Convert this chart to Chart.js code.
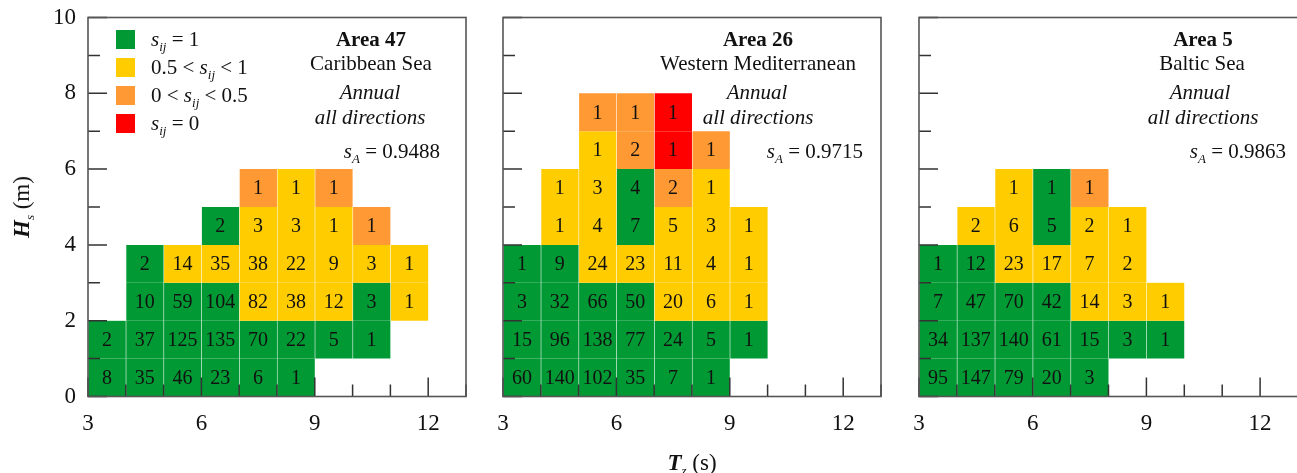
<!DOCTYPE html>
<html>
<head>
<meta charset="utf-8">
<script src="https://cdn.jsdelivr.net/npm/chart.js@4.4.1/dist/chart.umd.min.js"></script>
<style>
body{margin:0;width:1297px;height:473px;overflow:hidden;background:#fff;position:relative;
  font-family:"Liberation Serif","Times New Roman",serif;color:#111}
canvas{position:absolute;top:0}
.t{position:absolute;white-space:nowrap;font-size:21px;line-height:24px;transform:translate(-50%,-50%)}
.r{position:absolute;white-space:nowrap;font-size:21px;line-height:24px;transform:translate(-100%,-50%)}
.l{position:absolute;white-space:nowrap;font-size:21px;line-height:24px;transform:translate(0,-50%)}
sub{font-size:13px;vertical-align:-5px;line-height:0}
.sw{position:absolute;width:19px;height:19px}
</style>
</head>
<body>
<canvas id="c47" width="480" height="473" style="left:0"></canvas>
<canvas id="c26" width="412" height="473" style="left:483px"></canvas>
<canvas id="c5" width="399" height="473" style="left:899px"></canvas>

<div id="legend"></div>

<div class="t" style="left:371px;top:39px"><b>Area 47</b></div>
<div class="t" style="left:371px;top:63px">Caribbean Sea</div>
<div class="t" style="left:370px;top:92px"><i>Annual</i></div>
<div class="t" style="left:370px;top:117px"><i>all directions</i></div>
<div class="r" style="left:440px;top:151px"><i>s</i><sub><i>A</i></sub> = 0.9488</div>

<div class="t" style="left:758px;top:39px"><b>Area 26</b></div>
<div class="t" style="left:758px;top:63px">Western Mediterranean</div>
<div class="t" style="left:757px;top:92px"><i>Annual</i></div>
<div class="t" style="left:758px;top:117px"><i>all directions</i></div>
<div class="r" style="left:863px;top:151px"><i>s</i><sub><i>A</i></sub> = 0.9715</div>

<div class="t" style="left:1203px;top:39px"><b>Area 5</b></div>
<div class="t" style="left:1202px;top:63px">Baltic Sea</div>
<div class="t" style="left:1200px;top:92px"><i>Annual</i></div>
<div class="t" style="left:1203px;top:117px"><i>all directions</i></div>
<div class="r" style="left:1286px;top:151px"><i>s</i><sub><i>A</i></sub> = 0.9863</div>

<div class="t" style="left:22px;top:207px;font-size:23px;transform:translate(-50%,-50%) rotate(-90deg)"><b><i>H</i></b><sub><i>s</i></sub> (m)</div>
<div class="t" style="left:692px;top:463px;font-size:23px"><b><i>T</i></b><sub><i>z</i></sub> (s)</div>

<script>
// bin lower edges
const tzBins = [3, 4, 5, 6, 7, 8, 9, 10, 11, 12];
const hsBins = [0, 1, 2, 3, 4, 5, 6, 7];
const xTickLabels = [3, 6, 9, 12];
const yTickLabels = [0, 2, 4, 6, 8, 10];

// number of occurrences per cell, rows = Hs bins (bottom up), cols = Tz bins
const counts47 = [
  [8, 35, 46, 23, 6, 1, null, null, null, null],
  [2, 37, 125, 135, 70, 22, 5, 1, null, null],
  [null, 10, 59, 104, 82, 38, 12, 3, 1, null],
  [null, 2, 14, 35, 38, 22, 9, 3, 1, null],
  [null, null, null, 2, 3, 3, 1, 1, null, null],
  [null, null, null, null, 1, 1, 1, null, null, null]
];
const counts26 = [
  [60, 140, 102, 35, 7, 1, null, null, null, null],
  [15, 96, 138, 77, 24, 5, 1, null, null, null],
  [3, 32, 66, 50, 20, 6, 1, null, null, null],
  [1, 9, 24, 23, 11, 4, 1, null, null, null],
  [null, 1, 4, 7, 5, 3, 1, null, null, null],
  [null, 1, 3, 4, 2, 1, null, null, null, null],
  [null, null, 1, 2, 1, 1, null, null, null, null],
  [null, null, 1, 1, 1, null, null, null, null, null]
];
const counts5 = [
  [95, 147, 79, 20, 3, null, null, null, null, null],
  [34, 137, 140, 61, 15, 3, 1, null, null, null],
  [7, 47, 70, 42, 14, 3, 1, null, null, null],
  [1, 12, 23, 17, 7, 2, null, null, null, null],
  [null, 2, 6, 5, 2, 1, null, null, null, null],
  [null, null, 1, 1, 1, null, null, null, null, null]
];

// s_ij class per cell: 1 = (s=1), 2 = (0.5<s<1), 3 = (0<s<0.5), 4 = (s=0)
const class47 = [
  [1, 1, 1, 1, 1, 1, 0, 0, 0, 0],
  [1, 1, 1, 1, 1, 1, 1, 1, 0, 0],
  [0, 1, 1, 1, 2, 2, 2, 1, 2, 0],
  [0, 1, 2, 2, 2, 2, 2, 2, 2, 0],
  [0, 0, 0, 1, 2, 2, 2, 3, 0, 0],
  [0, 0, 0, 0, 3, 2, 3, 0, 0, 0]
];
const class26 = [
  [1, 1, 1, 1, 1, 1, 0, 0, 0, 0],
  [1, 1, 1, 1, 1, 1, 1, 0, 0, 0],
  [1, 1, 1, 1, 2, 2, 2, 0, 0, 0],
  [1, 1, 2, 2, 2, 2, 2, 0, 0, 0],
  [0, 2, 2, 1, 2, 2, 2, 0, 0, 0],
  [0, 2, 2, 1, 3, 2, 0, 0, 0, 0],
  [0, 0, 2, 3, 4, 3, 0, 0, 0, 0],
  [0, 0, 3, 3, 4, 0, 0, 0, 0, 0]
];
const class5 = [
  [1, 1, 1, 1, 1, 0, 0, 0, 0, 0],
  [1, 1, 1, 1, 1, 1, 1, 0, 0, 0],
  [1, 1, 1, 1, 2, 2, 2, 0, 0, 0],
  [1, 1, 2, 2, 2, 2, 0, 0, 0, 0],
  [0, 2, 2, 1, 2, 2, 0, 0, 0, 0],
  [0, 0, 2, 1, 3, 0, 0, 0, 0, 0]
];

const classColors = ['#009933', '#ffcc00', '#ff9933', '#ff0000'];
const classLabels = [
  '<i>s</i><sub><i>ij</i></sub> = 1',
  '0.5 &lt; <i>s</i><sub><i>ij</i></sub> &lt; 1',
  '0 &lt; <i>s</i><sub><i>ij</i></sub> &lt; 0.5',
  '<i>s</i><sub><i>ij</i></sub> = 0'
];

const FONT = '"Liberation Serif", "Times New Roman", serif';

// legend (inside first panel)
let lg = '';
classColors.forEach((c, i) => {
  const y = 39 + i * 28;
  lg += '<div class="sw" style="left:116px;top:' + (y - 9.5) + 'px;background:' + c + '"></div>';
  lg += '<div class="l" style="left:151px;top:' + y + 'px">' + classLabels[i] + '</div>';
});
document.getElementById('legend').innerHTML = lg;

function buildCells(counts, cls) {
  const out = [];
  counts.forEach((row, r) => {
    row.forEach((n, c) => {
      if (n === null) return;
      out.push({x: tzBins[c] + 0.5, y: [hsBins[r], hsBins[r] + 1], n: n, k: cls[r][c]});
    });
  });
  return out;
}

// numbers, inward tick marks and frame
const decorPlugin = {
  id: 'decor',
  afterDatasetsDraw(chart) {
    const ctx = chart.ctx;
    const meta = chart.getDatasetMeta(0);
    ctx.save();
    ctx.fillStyle = '#111';
    ctx.font = '20px ' + FONT;
    ctx.textAlign = 'center';
    ctx.textBaseline = 'middle';
    meta.data.forEach((el, i) => {
      const d = chart.data.datasets[0].data[i];
      ctx.fillText(String(d.n), el.x, (el.y + el.base) / 2 + 1);
    });

    const a = chart.chartArea;
    ctx.strokeStyle = '#333';
    ctx.lineWidth = 1.5;
    ctx.beginPath();
    const xs = chart.scales.x, ys = chart.scales.y;
    xs.ticks.forEach(t => {
      const px = xs.getPixelForValue(t.value);
      const len = xTickLabels.includes(t.value) ? 19 : 12;
      ctx.moveTo(px, a.bottom);
      ctx.lineTo(px, a.bottom - len);
    });
    ys.ticks.forEach(t => {
      const py = ys.getPixelForValue(t.value);
      const len = yTickLabels.includes(t.value) ? 19 : 12;
      ctx.moveTo(a.left, py);
      ctx.lineTo(a.left + len, py);
    });
    ctx.stroke();
    ctx.strokeStyle = '#555';
    ctx.lineWidth = 1.6;
    ctx.strokeRect(a.left, a.top, a.right - a.left, a.bottom - a.top);
    ctx.restore();
  }
};

const panels = [
  {id: 'c47', counts: counts47, cls: class47, yw: 88, padR: 14, showY: true},
  {id: 'c26', counts: counts26, cls: class26, yw: 20, padR: 14, showY: false},
  {id: 'c5', counts: counts5, cls: class5, yw: 20, padR: 0, showY: false}
];

function noPad(s) {
  s.paddingTop = 0; s.paddingBottom = 0; s.paddingLeft = 0; s.paddingRight = 0;
}

panels.forEach(p => {
  new Chart(document.getElementById(p.id), {
    type: 'bar',
    data: {
      datasets: [{
        data: buildCells(p.counts, p.cls),
        backgroundColor: c => classColors[c.raw.k - 1],
        borderColor: 'rgba(255,255,255,0.15)',
        borderWidth: {left: 1, right: 0, top: 0, bottom: 0},
        borderSkipped: false,
        inflateAmount: 0.5,
        barPercentage: 1,
        categoryPercentage: 1,
        grouped: false
      }]
    },
    options: {
      responsive: false,
      animation: false,
      layout: {padding: {top: 17.5, right: p.padR, bottom: 26.5, left: 0}},
      plugins: {legend: {display: false}, tooltip: {enabled: false}},
      scales: {
        x: {
          type: 'linear', min: 3, max: 13, offset: false,
          grid: {display: false, drawTicks: false}, border: {display: false},
          ticks: {
            stepSize: 1, autoSkip: false, maxRotation: 0, padding: 14,
            color: '#111', font: {family: FONT, size: 23},
            callback: v => xTickLabels.includes(v) ? String(v) : ''
          },
          afterFit: s => { s.height = 50; noPad(s); }
        },
        y: {
          min: 0, max: 10,
          grid: {display: false, drawTicks: false}, border: {display: false},
          ticks: {
            stepSize: 1, autoSkip: false, padding: 12,
            color: '#111', font: {family: FONT, size: 23},
            callback: v => (p.showY && yTickLabels.includes(v)) ? String(v) : ''
          },
          afterFit: s => { s.width = p.yw; noPad(s); }
        }
      }
    },
    plugins: [decorPlugin]
  });
});
</script>
</body>
</html>
